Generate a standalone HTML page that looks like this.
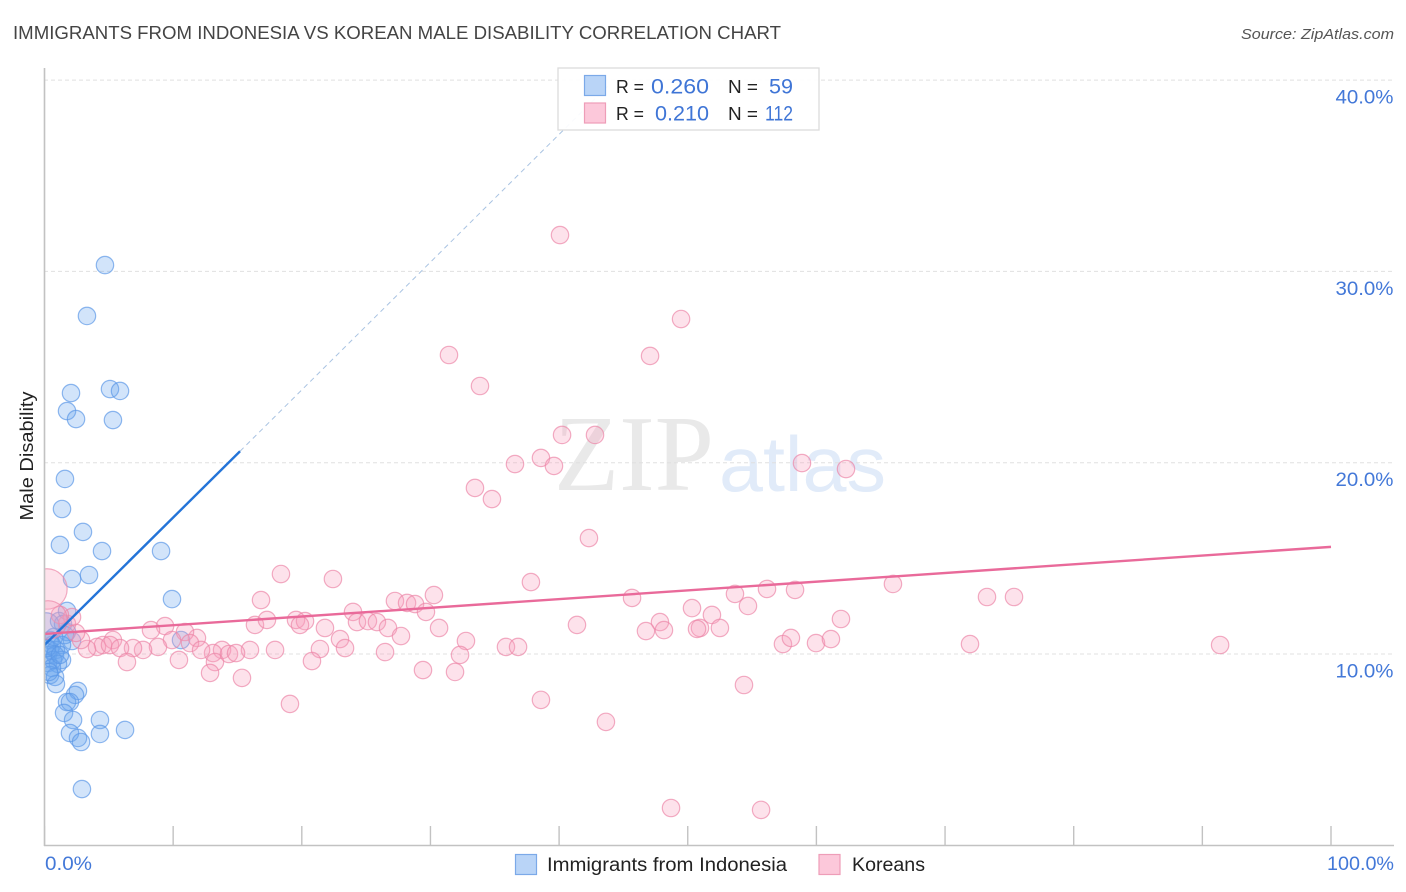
<!DOCTYPE html>
<html lang="en">
<head>
<meta charset="utf-8">
<title>Immigrants from Indonesia vs Korean Male Disability Correlation Chart</title>
<style>
html,body{margin:0;padding:0;background:#fff;width:1406px;height:892px;overflow:hidden}
svg{display:block}
text{font-family:"Liberation Sans",sans-serif}
</style>
</head>
<body>
<svg id="chart" width="1406" height="892" viewBox="0 0 1406 892" xmlns="http://www.w3.org/2000/svg">
  <text x="13" y="39" font-size="18.5" fill="#444" textLength="768" lengthAdjust="spacingAndGlyphs">IMMIGRANTS FROM INDONESIA VS KOREAN MALE DISABILITY CORRELATION CHART</text>
  <text x="1394" y="39" font-size="15" font-style="italic" fill="#555" text-anchor="end" textLength="153" lengthAdjust="spacingAndGlyphs">Source: ZipAtlas.com</text>
  <g id="watermark">
    <text x="554" y="490" font-size="108" fill="#e9e9e9" textLength="160" lengthAdjust="spacingAndGlyphs" style="font-family:'Liberation Serif',serif">ZIP</text>
    <text x="719" y="491" font-size="78" fill="#e1ebf9" textLength="167" lengthAdjust="spacingAndGlyphs">atlas</text>
  </g>
  <g id="grid"></g>
  <g id="x-ticks"></g>
  <g id="points"></g>
  <g id="trends"></g>
  <rect x="0" y="60" width="44" height="790" fill="#fff"/>
  <line x1="44.5" y1="68" x2="44.5" y2="846" stroke="#c2c2c2" stroke-width="1.6"/>
  <line x1="44" y1="845.5" x2="1394" y2="845.5" stroke="#c2c2c2" stroke-width="1.6"/>
  <g id="y-labels"></g>
  <g id="x-labels"></g>
  <text transform="translate(33,456) rotate(-90)" font-size="18.5" fill="#222" text-anchor="middle" textLength="129" lengthAdjust="spacingAndGlyphs">Male Disability</text>

  <g>
    <rect x="558" y="68" width="261" height="62" fill="#fff" fill-opacity="0.93" stroke="#dcdcdc" stroke-width="1.3"/>
    <rect x="584.5" y="75.5" width="21" height="20" fill="#b9d4f7" stroke="#7ba9e8" stroke-width="1.2"/>
    <rect x="584.5" y="103" width="21" height="20" fill="#fcc8da" stroke="#ee9db8" stroke-width="1.2"/>
    <text x="616" y="93" font-size="18" fill="#222" textLength="28" lengthAdjust="spacingAndGlyphs">R =</text>
    <text x="651" y="93.5" font-size="21" fill="#3f75d6" textLength="58" lengthAdjust="spacingAndGlyphs">0.260</text>
    <text x="728" y="93" font-size="18" fill="#222" textLength="30" lengthAdjust="spacingAndGlyphs">N =</text>
    <text x="769" y="93.5" font-size="21" fill="#3f75d6" textLength="24" lengthAdjust="spacingAndGlyphs">59</text>
    <text x="616" y="120" font-size="18" fill="#222" textLength="28" lengthAdjust="spacingAndGlyphs">R =</text>
    <text x="655" y="120.5" font-size="21" fill="#3f75d6" textLength="54" lengthAdjust="spacingAndGlyphs">0.210</text>
    <text x="728" y="120" font-size="18" fill="#222" textLength="30" lengthAdjust="spacingAndGlyphs">N =</text>
    <text x="765" y="120.5" font-size="21" fill="#3f75d6" textLength="28" lengthAdjust="spacingAndGlyphs">112</text>
  </g>

  <g>
    <g>
      <rect x="515.5" y="854.5" width="21" height="20" fill="#b9d4f7" stroke="#7ba9e8" stroke-width="1.2"/>
      <text x="547" y="871" font-size="19" fill="#222" textLength="240" lengthAdjust="spacingAndGlyphs">Immigrants from Indonesia</text>
    </g>
    <g>
      <rect x="819" y="854.5" width="21" height="20" fill="#fcc8da" stroke="#ee9db8" stroke-width="1.2"/>
      <text x="852" y="871" font-size="19" fill="#222" textLength="73" lengthAdjust="spacingAndGlyphs">Koreans</text>
    </g>
  </g>
</svg>
<script>
// Tick labels and axis values
const yTickValues = [10, 20, 30, 40];
const yTickLabels = ["10.0%", "20.0%", "30.0%", "40.0%"];
const xTickValues = [0, 10, 20, 30, 40, 50, 60, 70, 80, 90, 100];
const xEndValues = [0, 100];
const xEndLabels = ["0.0%", "100.0%"];

// Immigrants from Indonesia: x share (%), male disability (%), relative weight
const indonesiaX = [4.70,3.30,5.09,5.87,2.06,1.75,2.45,5.32,1.59,1.36,2.99,1.20,4.47,9.06,2.14,3.46,9.91,1.75,1.13,1.44,1.75,10.61,2.14,1.59,0.43,1.36,0.58,0.43,0.89,0.27,0.82,1.36,0.66,0.27,1.05,0.58,0.43,0.82,0.89,0.35,2.60,2.37,1.75,1.98,1.52,2.22,4.31,1.98,2.60,2.84,4.31,6.26,2.91,0.19,1.20,0.74,0.12];
const indonesiaY = [30.33,27.67,23.85,23.75,23.64,22.70,22.28,22.23,19.15,17.58,16.38,15.70,15.38,15.38,13.92,14.13,12.87,12.25,11.72,11.57,11.15,10.73,10.68,10.99,10.73,10.47,10.47,10.21,10.21,9.95,9.95,9.69,9.69,9.53,9.48,9.27,8.90,8.80,8.43,9.06,8.07,7.86,7.49,7.49,6.92,6.55,6.55,5.87,5.61,5.40,5.82,6.03,2.94,10.31,9.95,10.89,11.45];
const indonesiaWeight = [1,1,1,1,1,1,1,1,1,1,1,1,1,1,1,1,1,1,1,1,1,1,1,1,1,1,1,1,1,1,1,1,1,1,1,1,1,1,1,1,1,1,1,1,1,1,1,1,1,1,1,1,1,1,1,1,2.4];

// Koreans: x share (%), male disability (%), relative weight
const koreansX = [40.07,49.48,31.44,47.07,33.85,40.23,42.79,36.57,38.59,39.60,58.88,62.30,33.46,34.78,42.32,18.38,22.42,37.81,65.95,30.27,45.67,53.67,56.16,58.34,73.26,75.36,16.83,27.24,28.18,28.80,29.65,23.98,50.33,51.88,54.68,61.91,41.39,52.50,50.95,50.72,47.84,46.75,48.15,19.55,20.25,19.86,16.36,17.29,21.80,24.29,25.14,25.84,26.70,27.71,30.67,22.97,32.76,23.36,26.47,21.41,17.92,15.97,13.80,13.10,11.85,9.37,8.28,10.92,9.91,11.31,8.82,7.66,6.88,5.32,4.55,4.08,3.30,2.84,2.45,1.75,2.14,1.20,5.09,5.87,6.41,10.45,12.17,13.25,12.87,14.34,14.89,15.35,19.08,20.79,29.42,31.91,32.30,35.87,36.81,38.59,43.64,48.70,55.70,54.37,57.40,58.02,59.97,61.13,71.94,91.38,0.19,0.27];
const koreansY = [31.90,27.51,25.63,25.58,24.01,21.45,21.45,19.93,20.25,19.83,19.98,19.67,18.68,18.10,16.06,14.18,13.92,13.76,13.66,13.08,12.93,13.14,13.40,13.35,12.98,12.98,12.82,12.77,12.67,12.61,12.20,12.20,12.40,12.04,12.51,11.83,11.52,11.36,11.36,11.31,11.67,11.20,11.25,11.78,11.72,11.52,11.52,11.78,11.36,11.67,11.72,11.67,11.36,10.94,11.36,10.78,10.68,10.31,10.10,10.26,10.21,10.21,10.21,10.05,10.84,11.46,11.25,11.15,10.73,10.57,10.37,10.21,10.31,10.73,10.47,10.37,10.26,10.73,11.10,11.57,11.93,12.04,10.47,10.31,9.58,9.69,10.21,9.58,9.01,10.00,10.05,8.75,7.39,9.63,9.16,9.06,9.95,10.37,10.37,7.60,6.45,1.95,1.85,8.38,10.52,10.84,10.57,10.78,10.52,10.47,13.40,11.78];
const koreansWeight = [1,1,1,1,1,1,1,1,1,1,1,1,1,1,1,1,1,1,1,1,1,1,1,1,1,1,1,1,1,1,1,1,1,1,1,1,1,1,1,1,1,1,1,1,1,1,1,1,1,1,1,1,1,1,1,1,1,1,1,1,1,1,1,1,1,1,1,1,1,1,1,1,1,1,1,1,1,1,1,1,1,1,1,1,1,1,1,1,1,1,1,1,1,1,1,1,1,1,1,1,1,1,1,1,1,1,1,1,1,1,5.4,4.9];

// Fitted trend endpoints: [x, y] in data units
const indonesiaTrendSolid = [[0, 10.47], [15.2, 20.6]];
const indonesiaTrendDashed = [[15.2, 20.6], [43.8, 39.7]];
const koreansTrend = [[0, 11.05], [100, 15.6]];

const NS = "http://www.w3.org/2000/svg";
function xScale(v) { return 44.5 + v * 12.865; }
function yScale(v) { return 654 - (v - 10) * 19.13; }
function make(parent, tag, attrs, content) {
  const el = document.createElementNS(NS, tag);
  for (const k in attrs) el.setAttribute(k, attrs[k]);
  if (content !== undefined) el.textContent = content;
  parent.appendChild(el);
  return el;
}

const gridGroup = document.getElementById("grid");
const yLabelGroup = document.getElementById("y-labels");
yTickValues.forEach(function (v, i) {
  const line = make(gridGroup, "line", { x1: 44, x2: 1394, y1: yScale(v), y2: yScale(v), stroke: "#e0e0e0", "stroke-width": 1, "stroke-dasharray": "4 3" });
  
  
  const label = make(yLabelGroup, "text", { x: 1393.5, y: yScale(v) + 23.5, "font-size": 19.5, fill: "#4378d8", "text-anchor": "end", textLength: 58, lengthAdjust: "spacingAndGlyphs" }, yTickLabels[i]);
  
  
});

const xTickGroup = document.getElementById("x-ticks");
xTickValues.forEach(function (v) {
  const tick = make(xTickGroup, "line", { x1: xScale(v), x2: xScale(v), y1: 826, y2: 845, stroke: "#c2c2c2", "stroke-width": 1.4 });
  
  
});

const xLabelGroup = document.getElementById("x-labels");
xEndValues.forEach(function (v, i) {
  const isFirst = i === 0;
  const label = make(xLabelGroup, "text", { x: isFirst ? xScale(v) + 0.5 : xScale(v) + 63, y: 870, "font-size": 19.5, fill: "#4378d8", "text-anchor": isFirst ? "start" : "end", textLength: isFirst ? 47 : 67, lengthAdjust: "spacingAndGlyphs" }, xEndLabels[i]);
  
  
});

const pointGroup = document.getElementById("points");
function drawSeries(xs, ys, weights, fill, stroke) {
  xs.forEach(function (x, i) {
    const dot = make(pointGroup, "circle", { cx: xScale(x), cy: yScale(ys[i]), r: 8.7 * Math.sqrt(weights[i]), fill: fill, "fill-opacity": 0.3, stroke: stroke, "stroke-opacity": 0.68, "stroke-width": 1.2 });
    
    
  });
}
drawSeries(indonesiaX, indonesiaY, indonesiaWeight, "#6ba6ee", "#5a97e6");
drawSeries(koreansX, koreansY, koreansWeight, "#f79fbc", "#ec85a6");

const trendGroup = document.getElementById("trends");
function drawTrend(seg, stroke, width, dash, name) {
  const attrs = { x1: xScale(seg[0][0]), y1: yScale(seg[0][1]), x2: xScale(seg[1][0]), y2: yScale(seg[1][1]), stroke: stroke, "stroke-width": width };
  if (dash) attrs["stroke-dasharray"] = dash;
  const line = make(trendGroup, "line", attrs);
  
  
}
drawTrend(indonesiaTrendSolid, "#2474d8", 2.4, null, "indonesia-trend-line");
drawTrend(indonesiaTrendDashed, "#a9c3e2", 1, "5 4", "indonesia-trend-extension");
drawTrend(koreansTrend, "#e96a9a", 2.4, null, "koreans-trend-line");
</script>
</body>
</html>
